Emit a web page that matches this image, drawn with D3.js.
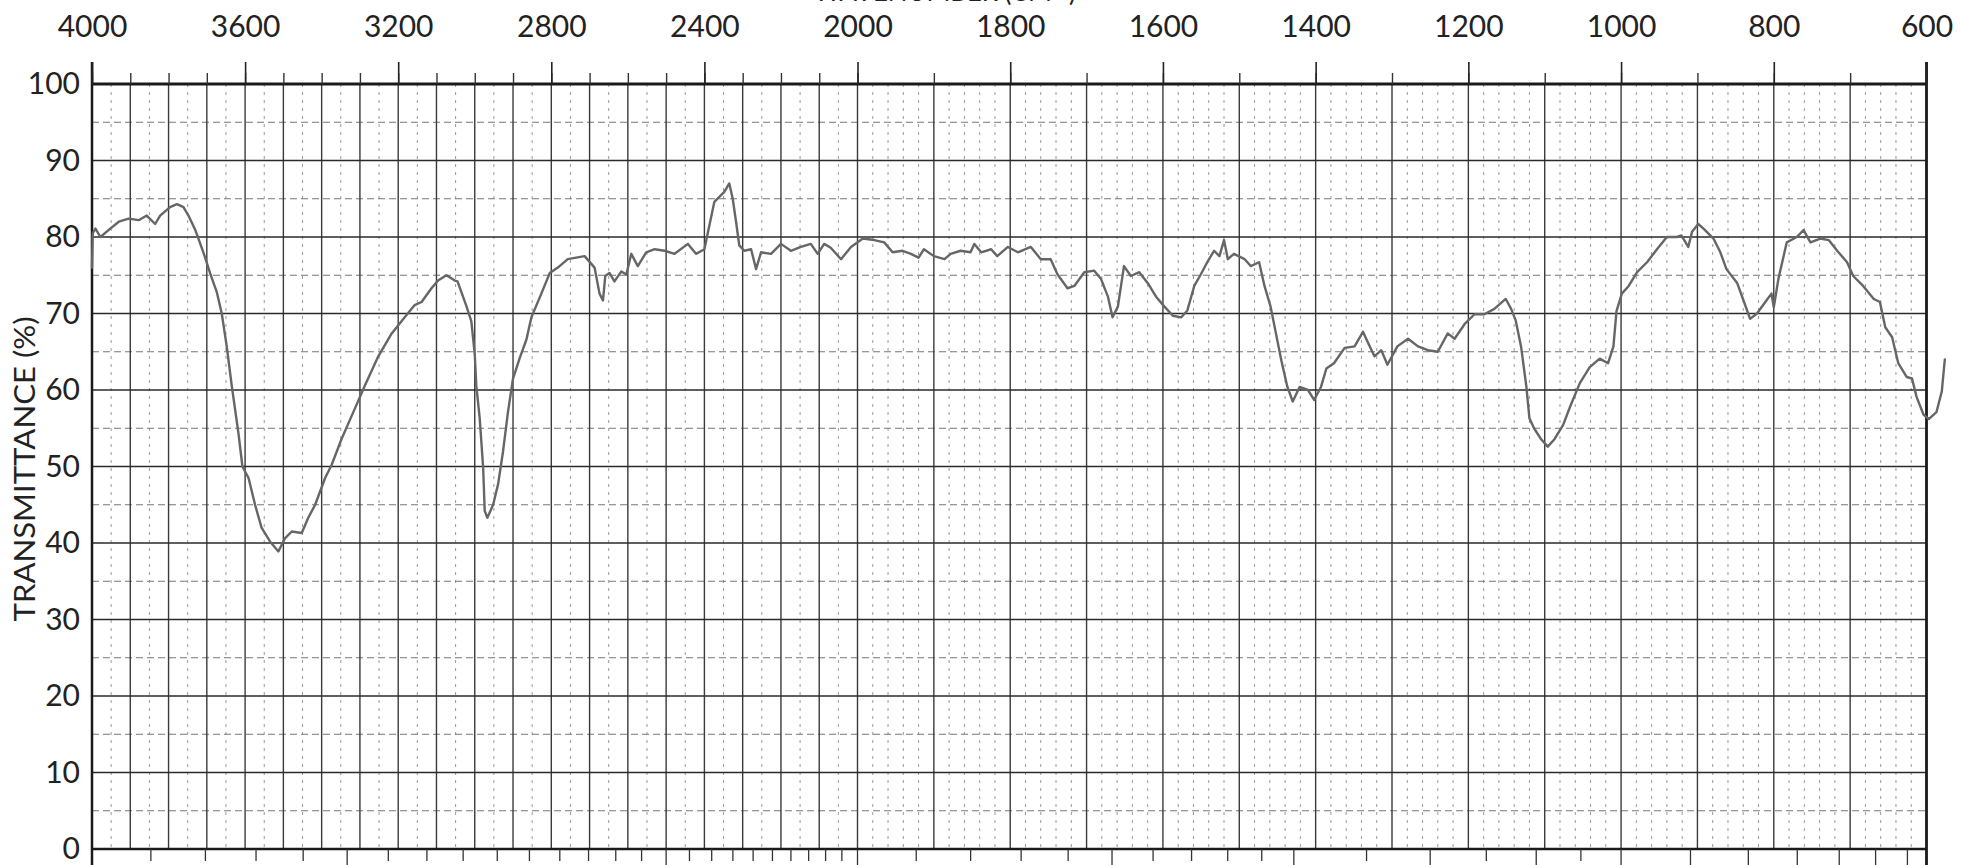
<!DOCTYPE html>
<html>
<head>
<meta charset="utf-8">
<script src="https://cdn.jsdelivr.net/npm/d3@7"></script>
<style>
  html, body { margin: 0; padding: 0; background: #fff; }
  svg { display: block; }
  text { font-family: Lato, "Open Sans", sans-serif; fill: #222; }
</style>
</head>
<body>
<svg id="chart" width="1961" height="865"></svg>
<script>
// ---------- data ----------
const topTickLabels = [4000, 3600, 3200, 2800, 2400, 2000, 1800, 1600, 1400, 1200, 1000, 800, 600];
const yTickLabels = [0, 10, 20, 30, 40, 50, 60, 70, 80, 90, 100];
const yAxisTitle = "TRANSMITTANCE (%)";
const xAxisTitle = "WAVENUMBER (CM⁻¹)";

const wavenumber = [
  4000, 3998, 3991, 3978, 3957, 3930, 3904, 3878, 3857, 3835, 3822, 3796, 3778, 3761, 3748, 3730,
  3709, 3691, 3674, 3661, 3648, 3635, 3617, 3607, 3591, 3574, 3557, 3535, 3513, 3496, 3478, 3452,
  3435, 3417, 3391, 3374, 3348, 3313, 3287, 3252, 3217, 3183, 3157, 3139, 3113, 3096, 3074, 3052,
  3045, 3022, 3009, 3000, 2996, 2987, 2978, 2974, 2967, 2952, 2939, 2926, 2913, 2900, 2883, 2865,
  2852, 2826, 2804, 2783, 2757, 2735, 2713, 2687, 2674, 2665, 2659, 2648, 2635, 2617, 2604, 2591,
  2574, 2552, 2530, 2504, 2478, 2443, 2422, 2400, 2387, 2374, 2348, 2335, 2326, 2317, 2309, 2296,
  2278, 2265, 2252, 2226, 2200, 2174, 2148, 2122, 2104, 2087, 2070, 2043, 2017, 1993, 1978, 1965,
  1954, 1941, 1930, 1920, 1913, 1900, 1886, 1878, 1865, 1852, 1847, 1838, 1825, 1817, 1803, 1790,
  1773, 1760, 1747, 1738, 1725, 1716, 1703, 1690, 1681, 1672, 1666, 1659, 1651, 1642, 1631, 1620,
  1609, 1598, 1587, 1576, 1568, 1559, 1551, 1542, 1533, 1526, 1520, 1515, 1507, 1493, 1485, 1474,
  1467, 1459, 1452, 1445, 1437, 1430, 1421, 1410, 1402, 1393, 1386, 1376, 1362, 1349, 1338, 1332,
  1323, 1314, 1306, 1293, 1279, 1266, 1253, 1240, 1227, 1218, 1205, 1192, 1179, 1166, 1151, 1144,
  1138, 1131, 1124, 1120, 1114, 1105, 1096, 1087, 1076, 1066, 1054, 1041, 1028, 1017, 1010, 1006,
  999, 990, 979, 966, 953, 940, 927, 921, 912, 907, 899, 892, 879, 870, 862, 848,
  840, 831, 822, 809, 803, 800, 794, 783, 770, 761, 752, 739, 728, 717, 704, 696,
  683, 669, 661, 654, 645, 637, 626, 619, 613, 604, 597, 587, 580, 576
];
const transmittance = [
  76, 80.5, 81.1, 80, 80.9, 82, 82.4, 82.2, 82.8, 81.7, 82.8, 83.9, 84.3, 83.9, 82.8, 80.9,
  78, 75.2, 72.8, 70, 65.7, 60.6, 54.2, 50, 48.5, 45, 42, 40.2, 38.9, 40.6, 41.5, 41.3,
  43.3, 45, 48.5, 50.2, 53.6, 57.6, 60.6, 64.4, 67.4, 69.5, 71.1, 71.5, 73.3, 74.3, 75, 74.3,
  74.2, 71, 69, 64.7, 60.6, 56.3, 49.8, 44.2, 43.3, 45, 47.7, 52, 57.2, 61.5, 64.1, 66.6,
  69.5, 72.6, 75.3, 76, 77.1, 77.3, 77.5, 76, 72.6, 71.7, 74.9, 75.3, 74.2, 75.5, 75.1, 77.8,
  76.2, 78, 78.4, 78.2, 77.8, 79.1, 77.8, 78.4, 81.5, 84.6, 85.9, 87, 85, 81.9, 78.9, 78.2,
  78.4, 75.8, 78, 77.8, 79.1, 78.2, 78.7, 79.1, 77.8, 79.1, 78.6, 77.1, 78.7, 79.8, 79.6, 79.3,
  78, 78.2, 77.8, 77.3, 78.4, 77.5, 77.1, 77.8, 78.2, 78, 79.1, 78, 78.4, 77.5, 78.7, 78,
  78.7, 77.1, 77.1, 75.1, 73.3, 73.6, 75.4, 75.6, 74.5, 72.2, 69.5, 70.9, 76.2, 74.9, 75.4, 74,
  72.2, 70.9, 69.7, 69.5, 70.4, 73.6, 75, 76.7, 78.2, 77.5, 79.6, 77.1, 77.8, 77.1, 76.2, 76.7,
  73.6, 70.9, 67.4, 63.9, 60.4, 58.5, 60.4, 60, 58.7, 60.4, 62.8, 63.5, 65.5, 65.7, 67.6, 66.3,
  64.4, 65.2, 63.3, 65.7, 66.7, 65.7, 65.2, 65, 67.4, 66.7, 68.6, 69.9, 69.9, 70.6, 71.9, 70.6,
  69.1, 65.7, 60.4, 56.3, 55, 53.6, 52.6, 53.6, 55.4, 58, 60.9, 63, 64.1, 63.5, 65.7, 70.3,
  72.6, 73.6, 75.4, 76.7, 78.4, 80, 80, 80.2, 78.7, 80.7, 81.7, 81.1, 79.8, 78, 75.8, 74,
  71.8, 69.3, 70, 71.8, 72.6, 70.8, 74.5, 79.3, 80, 80.9, 79.3, 79.8, 79.6, 78.2, 76.7, 74.9,
  73.6, 71.9, 71.5, 68.2, 66.9, 63.5, 61.7, 61.5, 59.1, 56.8, 56.2, 57.1, 59.8, 64
];
// wavelength (micrometre) marks along the bottom edge
const micronTicks = [2.6, 2.7, 2.8, 2.9, 3.0, 3.1, 3.2, 3.3, 3.4, 3.5, 3.6, 3.7, 3.8, 3.9, 4.0,
  4.1, 4.2, 4.3, 4.4, 4.5, 4.6, 4.7, 4.8, 4.9, 5.0, 5.2, 5.4, 5.6, 5.8, 6.0, 6.2, 6.4, 6.6, 6.8,
  7.0, 7.5, 8.0, 8.5, 9.0, 9.5, 10, 11, 12, 13, 14, 15, 16];

// ---------- scales ----------
const W = 1961, H = 865;
const svg = d3.select("#chart");
const x = d3.scaleLinear().domain([4000, 2000, 600]).range([92, 857.5, 1926.5]);
const y = d3.scaleLinear().domain([0, 100]).range([849, 84]);
const xL = x(4000), xR = x(600), yT = y(100), yB = y(0);

const grid = svg.append("g");

// minor vertical lines: 50 cm-1 above 2000, 20 cm-1 below
const minorV = [];
for (let w = 3950; w > 2000; w -= 100) minorV.push(w);
for (let w = 1980; w > 600; w -= 20) if (w % 100 !== 0) minorV.push(w);
grid.selectAll("line.mv").data(minorV).join("line")
  .attr("x1", d => x(d)).attr("x2", d => x(d))
  .attr("y1", yT).attr("y2", yB)
  .attr("stroke", "#999").attr("stroke-width", 1).attr("stroke-dasharray", "3,5");

// minor horizontal lines at 5 %
const minorH = d3.range(5, 100, 10);
grid.selectAll("line.mh").data(minorH).join("line")
  .attr("x1", xL).attr("x2", xR)
  .attr("y1", d => y(d)).attr("y2", d => y(d))
  .attr("stroke", "#777").attr("stroke-width", 1.1).attr("stroke-dasharray", "7,4");

// major vertical lines every 100 cm-1
const majorV = d3.range(3900, 600, -100);
grid.selectAll("line.Mv").data(majorV).join("line")
  .attr("x1", d => x(d)).attr("x2", d => x(d))
  .attr("y1", yT).attr("y2", yB)
  .attr("stroke", "#3a3a3a").attr("stroke-width", 1.4);

// major horizontal lines every 10 %
grid.selectAll("line.Mh").data(d3.range(10, 100, 10)).join("line")
  .attr("x1", xL).attr("x2", xR)
  .attr("y1", d => y(d)).attr("y2", d => y(d))
  .attr("stroke", "#2a2a2a").attr("stroke-width", 1.6);

// frame
svg.append("line").attr("x1", xL).attr("x2", xR).attr("y1", yT).attr("y2", yT)
  .attr("stroke", "#1a1a1a").attr("stroke-width", 3);
svg.append("line").attr("x1", xL).attr("x2", xR).attr("y1", yB).attr("y2", yB)
  .attr("stroke", "#1a1a1a").attr("stroke-width", 2.5);
svg.append("line").attr("x1", xL).attr("x2", xL).attr("y1", 62).attr("y2", H)
  .attr("stroke", "#1a1a1a").attr("stroke-width", 2.5);
svg.append("line").attr("x1", xR).attr("x2", xR).attr("y1", 62).attr("y2", H)
  .attr("stroke", "#1a1a1a").attr("stroke-width", 2.8);

// top axis: short ticks every 100, long labelled ticks
const allTop = d3.range(4000, 599, -100);
const axMinor = svg.append("g").attr("transform", `translate(0,${yT})`)
  .call(d3.axisTop(x).tickValues(allTop).tickSize(11).tickFormat(""));
axMinor.select(".domain").remove();
axMinor.selectAll(".tick line").attr("stroke", "#333").attr("stroke-width", 1.4);

const axTop = svg.append("g").attr("transform", `translate(0,${yT})`)
  .call(d3.axisTop(x).tickValues(topTickLabels).tickSize(22).tickPadding(25).tickFormat(d3.format("d")));
axTop.select(".domain").remove();
axTop.selectAll(".tick line").attr("stroke", "#222").attr("stroke-width", 1.6);
axTop.selectAll(".tick text").attr("font-size", 30).attr("font-family", "Lato, sans-serif").attr("fill", "#222");

// left axis labels
const axLeft = svg.append("g").attr("transform", `translate(${xL},0)`)
  .call(d3.axisLeft(y).tickValues(yTickLabels).tickSize(0).tickPadding(12));
axLeft.select(".domain").remove();
axLeft.selectAll(".tick text").attr("font-size", 30).attr("font-family", "Lato, sans-serif").attr("fill", "#222");

// axis titles
svg.append("text")
  .attr("transform", "translate(35,469) rotate(-90)")
  .attr("text-anchor", "middle").attr("font-size", 28)
  .attr("textLength", 305).attr("lengthAdjust", "spacingAndGlyphs")
  .text(yAxisTitle);
svg.append("text")
  .attr("x", 945).attr("y", 1).attr("text-anchor", "middle").attr("font-size", 28)
  .attr("textLength", 262).attr("lengthAdjust", "spacingAndGlyphs")
  .text(xAxisTitle);

// bottom micrometre ticks
svg.append("g").selectAll("line").data(micronTicks).join("line")
  .attr("x1", d => x(10000 / d)).attr("x2", d => x(10000 / d))
  .attr("y1", yB).attr("y2", d => Number.isInteger(d) ? H : yB + 12)
  .attr("stroke", "#333").attr("stroke-width", 1.3);

// spectrum trace
const pts = wavenumber.map((w, i) => [w, transmittance[i]]);
const line = d3.line().x(d => x(d[0])).y(d => y(d[1])).curve(d3.curveLinear);
svg.append("path").datum(pts)
  .attr("d", line).attr("fill", "none")
  .attr("stroke", "#666").attr("stroke-width", 2.4)
  .attr("stroke-linejoin", "round").attr("stroke-linecap", "round");
</script>
</body>
</html>
